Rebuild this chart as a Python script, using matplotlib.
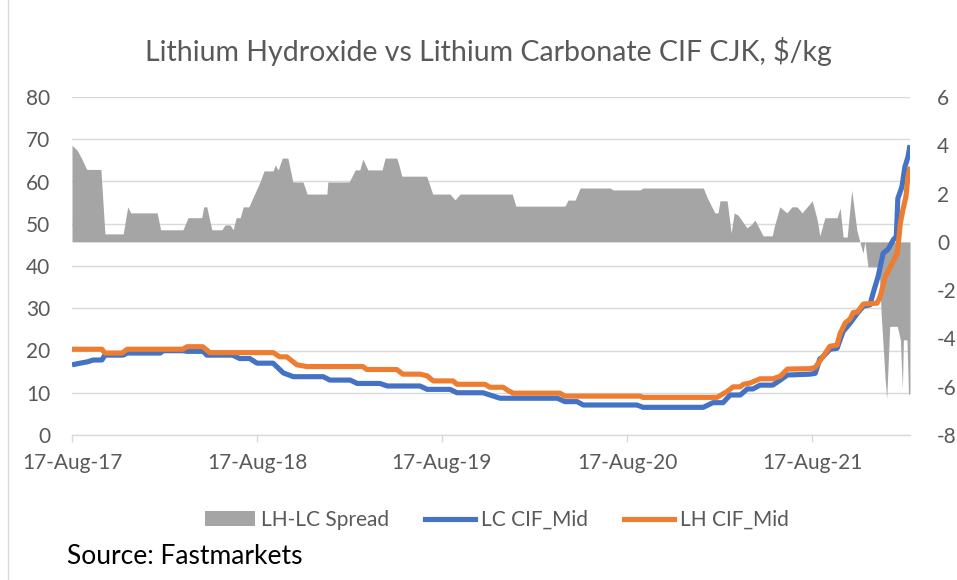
import matplotlib
matplotlib.use("Agg")
import matplotlib.pyplot as plt
import matplotlib.dates as mdates
from matplotlib.patches import Patch
from matplotlib.lines import Line2D
import pandas as pd

plt.rcParams['font.family'] = ['Lato', 'DejaVu Sans']
plt.rcParams['axes.unicode_minus'] = False

title = "Lithium Hydroxide vs Lithium Carbonate CIF CJK, $/kg"
source_text = "Source: Fastmarkets"
series_names = ["LH-LC Spread", "LC CIF_Mid", "LH CIF_Mid"]

spread_dates = [
    "2017-08-17", "2017-08-27", "2017-09-05", "2017-09-15", "2017-10-13", "2017-10-21",
    "2017-11-26", "2017-12-05", "2017-12-11", "2018-02-01", "2018-02-08", "2018-03-24",
    "2018-04-03", "2018-04-30", "2018-05-04", "2018-05-10", "2018-05-20", "2018-06-09",
    "2018-06-15", "2018-06-25", "2018-07-01", "2018-07-07", "2018-07-15", "2018-07-21",
    "2018-08-01", "2018-08-23", "2018-08-31", "2018-09-18", "2018-09-22", "2018-09-28",
    "2018-10-06", "2018-10-17", "2018-10-27", "2018-11-16", "2018-11-24", "2019-01-02",
    "2019-01-04", "2019-02-15", "2019-02-27", "2019-03-08", "2019-03-14", "2019-03-24",
    "2019-04-21", "2019-04-27", "2019-05-20", "2019-05-24", "2019-05-30", "2019-07-18",
    "2019-07-30", "2019-09-02", "2019-09-12", "2019-09-22", "2020-01-03", "2020-01-10",
    "2020-04-16", "2020-04-22", "2020-05-06", "2020-05-16", "2020-07-14", "2020-07-20",
    "2020-09-11", "2020-09-17", "2021-01-14", "2021-01-22", "2021-02-01", "2021-02-06",
    "2021-02-12", "2021-02-16", "2021-03-02", "2021-03-10", "2021-03-16", "2021-03-24",
    "2021-04-10", "2021-04-18", "2021-04-26", "2021-05-12", "2021-05-30", "2021-06-04",
    "2021-06-14", "2021-06-28", "2021-07-08", "2021-07-18", "2021-07-28", "2021-08-07",
    "2021-08-17", "2021-08-27", "2021-09-01", "2021-09-11", "2021-10-05", "2021-10-11",
    "2021-10-17", "2021-10-25", "2021-11-03", "2021-11-13", "2021-11-19", "2021-11-25",
    "2021-11-29", "2021-12-05", "2021-12-27", "2021-12-31", "2022-01-08", "2022-01-11",
    "2022-01-17", "2022-02-01", "2022-02-07", "2022-02-11", "2022-02-13", "2022-02-20",
    "2022-02-23", "2022-02-26",
]
spread_values = [
    4.0, 3.8, 3.45, 3.0, 3.0, 0.33,
    0.33, 1.45, 1.2, 1.2, 0.5, 0.5,
    1.0, 1.0, 1.45, 1.45, 0.5, 0.5,
    0.7, 0.7, 0.5, 1.0, 1.0, 1.45,
    1.45, 2.48, 2.94, 2.94, 3.18, 2.98,
    3.47, 3.47, 2.48, 2.48, 1.98, 1.98,
    2.48, 2.48, 2.98, 2.98, 3.43, 2.98,
    2.98, 3.47, 3.47, 3.2, 2.72, 2.72,
    1.98, 1.98, 1.74, 1.98, 1.98, 1.48,
    1.48, 1.73, 1.73, 2.23, 2.23, 2.15,
    2.15, 2.23, 2.23, 1.82, 1.4, 1.2,
    1.2, 1.7, 1.7, 0.37, 1.2, 1.1,
    0.58, 0.7, 0.9, 0.25, 0.25, 0.7,
    1.45, 1.2, 1.45, 1.45, 1.2, 1.45,
    1.7, 0.9, 0.25, 1.0, 1.0, 1.4,
    0.2, 0.2, 2.14, 0.5, 0.0, -0.47,
    0.0, -1.04, -1.04, -2.95, -5.7, -6.5,
    -3.5, -3.5, -4.06, -6.1, -4.06, -4.06,
    -6.3, -6.3,
]

lc_dates = [
    "2017-08-17", "2017-09-02", "2017-09-16", "2017-09-28", "2017-10-15", "2017-10-21",
    "2017-11-26", "2017-12-04", "2018-02-07", "2018-02-13", "2018-03-24", "2018-04-01",
    "2018-05-03", "2018-05-10", "2018-06-30", "2018-07-14", "2018-08-03", "2018-08-17",
    "2018-09-18", "2018-10-08", "2018-10-28", "2018-12-26", "2019-01-08", "2019-02-17",
    "2019-03-03", "2019-04-17", "2019-05-01", "2019-07-05", "2019-07-19", "2019-09-02",
    "2019-09-16", "2019-11-06", "2019-12-10", "2020-04-01", "2020-04-16", "2020-05-10",
    "2020-05-22", "2020-09-05", "2020-09-17", "2021-01-14", "2021-02-02", "2021-02-22",
    "2021-03-08", "2021-03-28", "2021-04-11", "2021-04-22", "2021-05-06", "2021-05-31",
    "2021-06-15", "2021-06-29", "2021-08-13", "2021-08-23", "2021-09-01", "2021-09-07",
    "2021-09-21", "2021-10-05", "2021-10-17", "2021-10-31", "2021-11-14", "2021-11-26",
    "2021-12-09", "2021-12-15", "2021-12-25", "2022-01-04", "2022-01-14", "2022-01-24",
    "2022-01-30", "2022-02-02", "2022-02-10", "2022-02-16", "2022-02-22", "2022-02-26",
]
lc_values = [
    16.6, 17.0, 17.3, 17.75, 17.75, 18.9,
    18.9, 19.4, 19.4, 19.95, 19.95, 19.8,
    19.8, 18.9, 18.9, 18.1, 18.1, 17.0,
    17.0, 14.7, 13.8, 13.8, 13.0, 13.0,
    12.2, 12.2, 11.6, 11.6, 10.8, 10.8,
    10.0, 10.0, 8.7, 8.7, 7.9, 7.9,
    7.1, 7.1, 6.55, 6.55, 7.65, 7.65,
    9.47, 9.47, 10.9, 10.9, 11.8, 11.8,
    13.0, 14.2, 14.4, 14.6, 18.0, 18.5,
    20.3, 20.5, 24.5, 26.5, 28.8, 30.5,
    30.8, 33.5, 37.5, 43.0, 44.0, 46.2,
    47.0, 56.0, 58.7, 63.5, 65.8, 68.6,
]

lh_dates = [
    "2017-08-17", "2017-10-15", "2017-10-21", "2017-11-24", "2017-12-04", "2018-03-24",
    "2018-04-01", "2018-05-02", "2018-05-16", "2018-09-18", "2018-10-01", "2018-10-15",
    "2018-11-04", "2018-11-24", "2019-03-14", "2019-03-22", "2019-05-20", "2019-06-01",
    "2019-07-05", "2019-07-19", "2019-07-31", "2019-09-08", "2019-09-16", "2019-11-10",
    "2019-11-20", "2019-12-16", "2019-12-26", "2020-01-05", "2020-04-06", "2020-04-16",
    "2020-09-11", "2020-09-17", "2021-02-10", "2021-03-02", "2021-03-14", "2021-03-28",
    "2021-04-03", "2021-04-16", "2021-05-06", "2021-05-31", "2021-06-15", "2021-06-29",
    "2021-08-13", "2021-08-23", "2021-09-07", "2021-09-21", "2021-10-05", "2021-10-11",
    "2021-10-21", "2021-10-31", "2021-11-06", "2021-11-14", "2021-11-26", "2021-12-23",
    "2021-12-29", "2022-01-08", "2022-01-22", "2022-02-01", "2022-02-07", "2022-02-12",
    "2022-02-18", "2022-02-22", "2022-02-26",
]
lh_values = [
    20.3, 20.3, 19.4, 19.4, 20.3, 20.3,
    20.9, 20.9, 19.5, 19.5, 18.5, 18.5,
    16.6, 16.2, 16.2, 15.5, 15.5, 14.4,
    14.4, 14.0, 12.8, 12.8, 12.0, 12.0,
    11.3, 11.3, 10.5, 9.9, 9.9, 9.2,
    9.2, 8.9, 8.9, 10.3, 11.4, 11.4,
    12.0, 12.3, 13.3, 13.3, 13.9, 15.6,
    15.7, 16.0, 18.5, 21.0, 21.3, 24.0,
    26.5, 27.5, 29.0, 29.1, 31.0, 31.2,
    32.7, 37.4, 40.7, 43.0, 50.2, 53.3,
    56.4, 61.2, 63.5,
]

left_ticks = [0, 10, 20, 30, 40, 50, 60, 70, 80]
right_ticks = [-8, -6, -4, -2, 0, 2, 4, 6]
x_tick_dates = ["2017-08-17", "2018-08-17", "2019-08-17", "2020-08-17", "2021-08-17"]

c_gray = "#A5A5A5"
c_blue = "#4472C4"
c_orange = "#ED7D31"
c_text = "#595959"
c_grid = "#D9D9D9"

sd = pd.to_datetime(spread_dates)
lcd = pd.to_datetime(lc_dates)
lhd = pd.to_datetime(lh_dates)
xt = pd.to_datetime(x_tick_dates)
x_start = pd.Timestamp("2017-08-17")
x_end = pd.Timestamp("2022-02-26")

fig = plt.figure(figsize=(9.57, 5.8), dpi=100)
rect = [72 / 957, 1 - 435 / 580, (910 - 72) / 957, (435 - 97) / 580]

# background axis: gridlines (left scale)
ax_bg = fig.add_axes(rect)
ax_bg.set_xlim(x_start, x_end)
ax_bg.set_ylim(0, 80)
ax_bg.set_yticks(left_ticks)
ax_bg.grid(axis='y', color=c_grid, linewidth=1.0)
ax_bg.tick_params(left=False, labelleft=False, bottom=False, labelbottom=False)
for s in ax_bg.spines.values():
    s.set_visible(False)

# area axis (right scale)
ax2 = fig.add_axes(rect)
ax2.patch.set_visible(False)
ax2.fill_between(sd, spread_values, 0, color=c_gray, linewidth=0, label=series_names[0])
ax2.set_xlim(x_start, x_end)
ax2.set_ylim(-8, 6)
ax2.set_yticks(right_ticks)
ax2.yaxis.tick_right()
ax2.tick_params(axis='y', right=False, labelright=True, left=False, labelleft=False,
                labelsize=15, labelcolor=c_text, pad=16)
for lab in ax2.get_yticklabels():
    lab.set_horizontalalignment('left')
ax2.tick_params(axis='x', bottom=False, labelbottom=False)
for s in ax2.spines.values():
    s.set_visible(False)

# line axis (left scale)
ax = fig.add_axes(rect)
ax.patch.set_visible(False)
ax.plot(lcd, lc_values, color=c_blue, linewidth=3.7, solid_capstyle='butt', label=series_names[1])
ax.plot(lhd, lh_values, color=c_orange, linewidth=3.7, solid_capstyle='butt', label=series_names[2])
ax.set_xlim(x_start, x_end)
ax.set_ylim(0, 80)
ax.set_yticks(left_ticks)
ax.set_xticks(xt)
ax.xaxis.set_major_formatter(mdates.DateFormatter("%d-%b-%y"))
ax.tick_params(axis='y', left=False, labelsize=15, labelcolor=c_text, pad=12)
ax.tick_params(axis='x', direction='out', length=5, width=1, color=c_grid,
               labelsize=15, labelcolor=c_text, pad=8)
for k in ('top', 'right', 'left'):
    ax.spines[k].set_visible(False)
ax.spines['bottom'].set_color(c_grid)
ax.spines['bottom'].set_linewidth(1.0)

fig.text(488 / 957, 1 - 51 / 580, title, ha='center', va='center', fontsize=20.5, color=c_text)

handles = [Patch(facecolor=c_gray, edgecolor='none'),
           Line2D([0], [0], color=c_blue, linewidth=3.7),
           Line2D([0], [0], color=c_orange, linewidth=3.7)]
fig.legend(handles, series_names, loc='center', bbox_to_anchor=(497 / 957, 1 - 520 / 580),
           ncol=3, frameon=False, fontsize=15, labelcolor=c_text, handlelength=2.4,
           handletextpad=0.3, columnspacing=1.7)

fig.text(67 / 957, 1 - 557 / 580, source_text, ha='left', va='center', fontsize=19, color='black')

fig.add_artist(Line2D([8 / 957, 8 / 957], [0, 1], transform=fig.transFigure, color=c_grid, linewidth=1))

fig.savefig("out.png", dpi=100)
